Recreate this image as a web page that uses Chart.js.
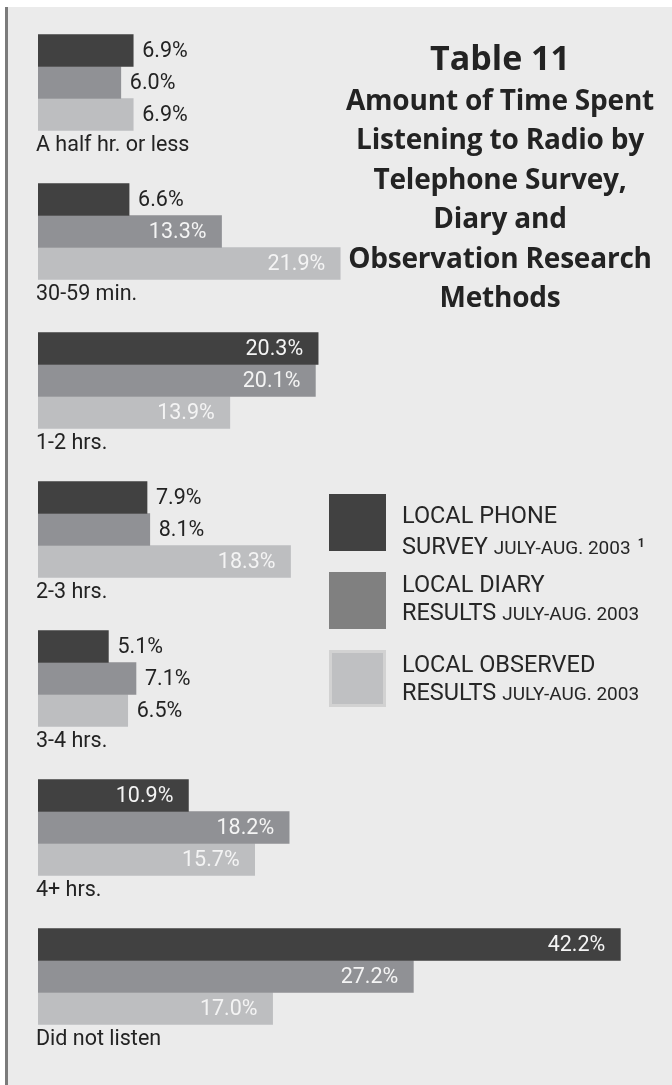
<!DOCTYPE html>
<html>
<head>
<meta charset="utf-8">
<script src="https://cdn.jsdelivr.net/npm/chart.js@4"></script>
<style>
  html, body { margin: 0; padding: 0; background: #fff; }
  #wrap { position: relative; width: 672px; height: 1085px; background: #fff; overflow: hidden; }
  #panel { position: absolute; left: 5px; top: 7px; right: 0; bottom: 0; background: #ebebeb; border-left: 3px solid #7b7b7b; }
  #c { position: absolute; left: 0; top: 0; }
  .title { position: absolute; left: 320px; width: 360px; text-align: center; font-family: "Open Sans", Lato, sans-serif; font-weight: bold; color: #232323; }
  .title .big { font-size: 34px; line-height: 40px; }
  .title .sub { font-size: 28px; line-height: 39.4px; letter-spacing: -0.2px; margin-top: 3px; }
  .key { position: absolute; left: 329px; width: 57px; height: 57px; box-sizing: border-box; }
  .keytext { position: absolute; left: 402px; font-family: Roboto, sans-serif; font-size: 23.5px; line-height: 28px; color: #262626; white-space: nowrap; }
  .keytext small { font-size: 19px; }
  .keytext sup { font-size: 12px; font-weight: bold; vertical-align: 7px; margin-left: 7px; }
</style>
</head>
<body>
<div id="wrap">
  <div id="panel"></div>
  <canvas id="c" width="672" height="1085"></canvas>
  <div class="title" style="top:37px">
    <div class="big">Table 11</div>
    <div class="sub">Amount of Time Spent<br>Listening to Radio by<br>Telephone Survey,<br>Diary and<br>Observation Research<br>Methods</div>
  </div>
  <div class="key" style="top:494px;background:#414141"></div>
  <div class="key" style="top:572px;background:#808080"></div>
  <div class="key" style="top:650px;background:#bfc0c2;border:3px solid #d2d2d2"></div>
  <div class="keytext" style="top:501px">LOCAL PHONE<br>SURVEY <small>JULY-AUG. 2003</small><sup>1</sup></div>
  <div class="keytext" style="top:570px">LOCAL DIARY<br>RESULTS <small>JULY-AUG. 2003</small></div>
  <div class="keytext" style="top:650px">LOCAL OBSERVED<br>RESULTS <small>JULY-AUG. 2003</small></div>
</div>
<script>
var categories = ['A half hr. or less', '30-59 min.', '1-2 hrs.', '2-3 hrs.', '3-4 hrs.', '4+ hrs.', 'Did not listen'];
var phoneSurvey = [6.9, 6.6, 20.3, 7.9, 5.1, 10.9, 42.2];
var diaryResults = [6.0, 13.3, 20.1, 8.1, 7.1, 18.2, 27.2];
var observedResults = [6.9, 21.9, 13.9, 18.3, 6.5, 15.7, 17.0];
var seriesNames = ['LOCAL PHONE SURVEY', 'LOCAL DIARY RESULTS', 'LOCAL OBSERVED RESULTS'];

var labelFont = '21.5px Roboto, sans-serif';

// percentage labels: white inside long bars, dark just past short ones
var valueLabels = {
    id: 'valueLabels',
    afterDatasetsDraw: function(chart) {
        var ctx = chart.ctx;
        ctx.save();
        ctx.font = labelFont;
        ctx.textBaseline = 'middle';
        chart.data.datasets.forEach(function(ds, i) {
            chart.getDatasetMeta(i).data.forEach(function(bar, j) {
                var v = ds.data[j];
                var txt = v.toFixed(1) + '%';
                if (v >= 10) {
                    ctx.fillStyle = '#f4f4f4';
                    ctx.textAlign = 'right';
                    ctx.fillText(txt, bar.x - 15, bar.y + 1);
                } else {
                    ctx.fillStyle = '#232323';
                    ctx.textAlign = 'left';
                    ctx.fillText(txt, bar.x + 9, bar.y + 1);
                }
            });
        });
        ctx.restore();
    }
};

// category name under each group of bars
var groupLabels = {
    id: 'groupLabels',
    afterDraw: function(chart) {
        var ctx = chart.ctx;
        var y = chart.scales.y;
        ctx.save();
        ctx.font = labelFont;
        ctx.fillStyle = '#232323';
        ctx.textAlign = 'left';
        ctx.textBaseline = 'middle';
        categories.forEach(function(name, i) {
            ctx.fillText(name, 36, y.getPixelForValue(i) + 48 + 15);
        });
        ctx.restore();
    }
};

var ctx = document.getElementById('c').getContext('2d');
var myChart = new Chart(ctx, {
    type: 'bar',
    data: {
        labels: categories,
        datasets: [{
            label: seriesNames[0],
            data: phoneSurvey,
            backgroundColor: '#414141'
        }, {
            label: seriesNames[1],
            data: diaryResults,
            backgroundColor: '#909195'
        }, {
            label: seriesNames[2],
            data: observedResults,
            backgroundColor: '#bdbec0'
        }]
    },
    options: {
        indexAxis: 'y',
        responsive: false,
        animation: false,
        barThickness: 32,
        layout: { padding: { left: 38, right: 13, top: 8, bottom: 34 } },
        scales: {
            x: { display: false, min: 0, max: 45 },
            y: { display: false }
        },
        plugins: {
            legend: { display: false },
            tooltip: { enabled: false }
        }
    },
    plugins: [valueLabels, groupLabels]
});
</script>
</body>
</html>
